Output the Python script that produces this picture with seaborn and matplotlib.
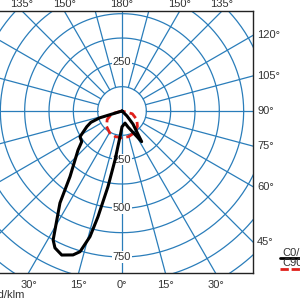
import numpy as np
import seaborn as sns
import matplotlib.pyplot as plt
from matplotlib.lines import Line2D

sns.set_style("white")
plt.rcParams['font.family'] = ['Liberation Sans', 'DejaVu Sans']

# C0/C180 plane: gamma angle (0 = down, + = right side), intensity in cd/klm
c0_angle = [-73, -73, -70, -66, -58.5, -52.7, -48.4, -38.4, -34, -28.1, -26.1, -22.7,
            -18.8, -16.6, -14.3, -12.8, -10.5, -8.1, -4.4, 0, 14, 20.6, 32.7, 40, 45, 45]
c0_cd = [0, 120, 170, 198, 253, 260, 302, 430, 570, 751, 783, 802,
         781, 754, 666, 557, 395, 254, 132, 81, 64, 88, 187, 88, 36, 0]

# C90/C270 plane
c90_angle = [-90, -75, -60, -45, -30, -15, 0, 15, 30, 45, 60, 75, 90]
c90_cd = [0, 55, 88, 112, 128, 136, 138, 136, 128, 112, 88, 55, 0]

ring_values = [125, 250, 375, 500, 625, 750, 875, 1000, 1125, 1250, 1375]
ring_labels_down = [250, 500, 750]
ring_labels_up = [250]
top_angles = [-135, -150, 180, 150, 135]
right_angles = [120, 105, 90, 75, 60, 45]
bottom_angles = [-30, -15, 0, 15, 30]

grid_col = "#2a7dba"
text_col = "#333333"


def to_xy(ang, cd):
    a = np.radians(np.asarray(ang, dtype=float))
    cd = np.asarray(cd, dtype=float)
    return cd * np.sin(a), -cd * np.cos(a)


fig = plt.figure(figsize=(3, 3), dpi=100)
ax = fig.add_axes([-9 / 300, 27 / 300, 262 / 300, 262 / 300])
xr = 673
ytop = 513.6
ybot = -832
ax.set_xlim(-xr, xr)
ax.set_ylim(ybot, ytop)
ax.set_aspect('equal')
ax.set_xticks([])
ax.set_yticks([])
for s in ax.spines.values():
    s.set_color('#222222')
    s.set_linewidth(1)

# polar grid
t = np.linspace(0, 2 * np.pi, 400)
for r in ring_values:
    ax.plot(r * np.cos(t), r * np.sin(t), color=grid_col, lw=0.9, zorder=1)
for a in range(0, 360, 15):
    r0 = 0 if a % 180 == 0 else 125
    gx, gy = to_xy([a, a], [r0, 2000])
    ax.plot(gx, gy, color=grid_col, lw=0.9, zorder=1)

# ring labels
for v in ring_labels_down:
    ax.text(0, -v, str(v), ha='center', va='center', fontsize=8, color=text_col, zorder=2,
            bbox=dict(facecolor='white', edgecolor='none', pad=0.5))
for v in ring_labels_up:
    ax.text(0, v, str(v), ha='center', va='center', fontsize=8, color=text_col, zorder=2,
            bbox=dict(facecolor='white', edgecolor='none', pad=0.5))

# curves
x90, y90 = to_xy(c90_angle, c90_cd)
sns.lineplot(x=x90, y=y90, sort=False, estimator=None, ax=ax, color='#e0201b',
             lw=2, dashes=False, zorder=3).lines[-1].set_dashes([3, 1.5])
x0, y0 = to_xy(c0_angle, c0_cd)
sns.lineplot(x=x0, y=y0, sort=False, estimator=None, ax=ax, color='black', lw=2.2, zorder=4)

# angle labels around the frame
for a in top_angles:
    rad = np.radians(a)
    x = ytop * np.sin(rad) / -np.cos(rad)
    ax.annotate(f"{abs(a)}°", (x, ytop), xytext=(0, 2), textcoords='offset pixels',
                ha='center', va='bottom', fontsize=8, color=text_col, annotation_clip=False)
for a in right_angles:
    rad = np.radians(a)
    y = -xr * np.cos(rad) / np.sin(rad)
    ax.annotate(f"{a}°", (xr, y), xytext=(4, 0), textcoords='offset pixels',
                ha='left', va='center', fontsize=8, color=text_col, annotation_clip=False)
for a in bottom_angles:
    rad = np.radians(a)
    x = -ybot * np.tan(rad)
    ax.annotate(f"{abs(a)}°", (x, ybot), xytext=(0, -7), textcoords='offset pixels',
                ha='center', va='top', fontsize=8, color=text_col, annotation_clip=False)

# legend and unit
fig.text(282 / 300, 1 - 256 / 300, "C0/C180", fontsize=8, color=text_col, va='baseline')
fig.add_artist(Line2D([280 / 300, 1.0], [1 - 257.5 / 300] * 2, color='black', lw=2,
                      transform=fig.transFigure))
fig.text(282 / 300, 1 - 266 / 300, "C90/C270", fontsize=8, color=text_col, va='baseline')
fig.add_artist(Line2D([280 / 300, 1.0], [1 - 269 / 300] * 2, color='#e0201b', lw=2,
                      dashes=[3, 1], transform=fig.transFigure))
fig.text(25 / 300, 1 - 298 / 300, "cd/klm", fontsize=8, color=text_col, ha='right', va='baseline')

fig.savefig("out.png", dpi=100)
